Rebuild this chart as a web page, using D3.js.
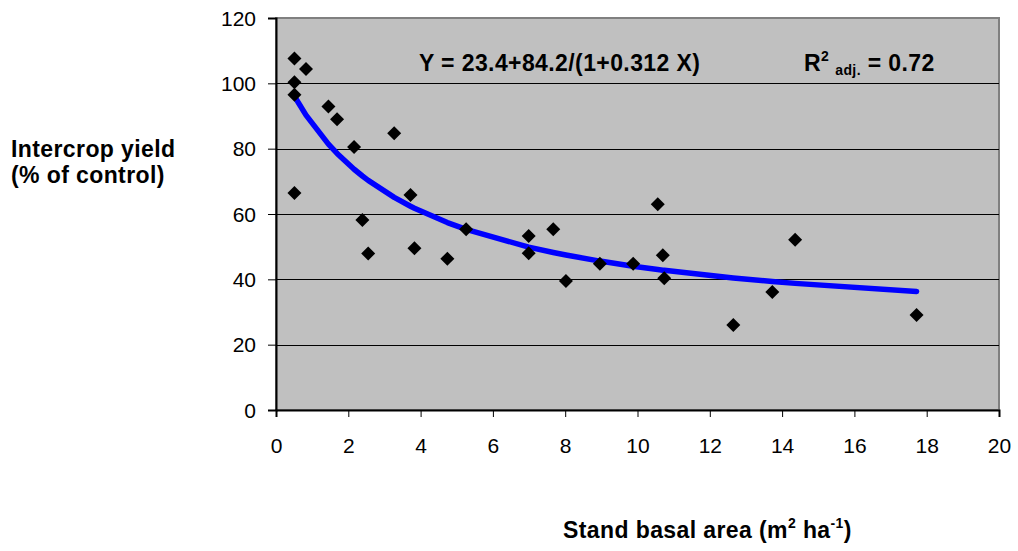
<!DOCTYPE html>
<html>
<head>
<meta charset="utf-8">
<script src="https://cdn.jsdelivr.net/npm/d3@7"></script>
<style>
  html, body { margin: 0; padding: 0; background: #ffffff; }
  svg { display: block; font-family: Arial, "Liberation Sans", sans-serif; }
</style>
</head>
<body>
<svg id="chart" width="1018" height="551"></svg>
<script>
// Stand basal area (m² ha⁻¹) and intercrop yield (% of control) per plot
const basalArea = [0.51, 0.83, 0.51, 0.51, 1.45, 1.69, 2.16, 3.27, 0.51, 3.72,
                   2.39, 2.55, 3.83, 4.74, 5.26, 6.99, 6.99, 7.67, 8.02, 8.96,
                   9.88, 10.56, 10.70, 10.74, 12.65, 13.73, 14.36, 17.72];
const yieldPct  = [107.6, 104.4, 100.3, 96.5, 92.9, 89.0, 80.5, 84.7, 66.4, 65.8,
                   58.2, 47.9, 49.5, 46.3, 55.3, 53.3, 48.0, 55.3, 39.5, 44.8,
                   44.8, 63.0, 47.4, 40.3, 26.0, 36.1, 52.1, 29.1];

// Fitted hyperbolic model: Y = a + b / (1 + c X)
const fitA = 23.4, fitB = 84.2, fitC = 0.312;
const r2Adj = 0.72;

const xTicks = [0, 2, 4, 6, 8, 10, 12, 14, 16, 18, 20];
const yTicks = [0, 20, 40, 60, 80, 100, 120];

const svg = d3.select("#chart");
const plotL = 276, plotR = 999, plotT = 18, plotB = 410;
const labelFont = 23, tickFont = 21, smallFont = 14, spacing = "0.4px";

const x = d3.scaleLinear().domain([0, 20]).range([plotL, plotR]);
const y = d3.scaleLinear().domain([0, 120]).range([plotB, plotT]);

// plot area
svg.append("rect")
  .attr("x", plotL).attr("y", plotT)
  .attr("width", plotR - plotL).attr("height", plotB - plotT)
  .attr("fill", "#c0c0c0")
  .attr("stroke", "#808080").attr("stroke-width", 2);

// horizontal gridlines
svg.append("g")
  .selectAll("line")
  .data(yTicks.filter(t => t > 0 && t < 120))
  .join("line")
  .attr("x1", plotL).attr("x2", plotR)
  .attr("y1", d => Math.round(y(d)) + 0.5).attr("y2", d => Math.round(y(d)) + 0.5)
  .attr("stroke", "#000").attr("stroke-width", 1);

// axes
const yAxis = svg.append("g")
  .attr("transform", `translate(${plotL},0)`)
  .call(d3.axisLeft(y).tickValues(yTicks).tickSize(8).tickPadding(12).tickFormat(d3.format("d")));
const xAxis = svg.append("g")
  .attr("transform", `translate(0,${plotB})`)
  .call(d3.axisBottom(x).tickValues(xTicks).tickSize(7).tickPadding(21).tickFormat(d3.format("d")));

[yAxis, xAxis].forEach(g => {
  g.select(".domain").attr("stroke", "#000").attr("stroke-width", 2);
  g.selectAll(".tick line").attr("stroke", "#000").attr("stroke-width", 1);
  g.selectAll(".tick text")
    .attr("fill", "#000")
    .style("font-family", "Arial, 'Liberation Sans', sans-serif")
    .style("font-size", tickFont + "px");
});
yAxis.selectAll(".tick text").attr("dy", "0.34em");

// fitted curve through the observed basal areas
const curveX = Array.from(new Set(basalArea)).sort((a, b) => a - b);
const curveData = curveX.map(v => [v, fitA + fitB / (1 + fitC * v)]);
svg.append("path")
  .datum(curveData)
  .attr("fill", "none")
  .attr("stroke", "#0000ff")
  .attr("stroke-width", 5.5)
  .attr("stroke-linejoin", "round")
  .attr("stroke-linecap", "round")
  .attr("d", d3.line().x(d => x(d[0])).y(d => y(d[1])));

// observations as diamonds
const diamond = d3.symbol().type(d3.symbolDiamond2).size(125);
svg.append("g")
  .selectAll("path")
  .data(basalArea.map((v, i) => [v, yieldPct[i]]))
  .join("path")
  .attr("d", diamond)
  .attr("transform", d => `translate(${x(d[0])},${y(d[1])})`)
  .attr("fill", "#000");

// equation and fit statistic
svg.append("text")
  .attr("x", 419).attr("y", 71)
  .attr("font-size", labelFont).attr("font-weight", "bold")
  .style("letter-spacing", spacing)
  .text(`Y = ${fitA}+${fitB}/(1+${fitC} X)`);

const r2 = svg.append("text")
  .attr("x", 804).attr("y", 71)
  .attr("font-size", labelFont).attr("font-weight", "bold")
  .style("letter-spacing", spacing);
r2.append("tspan").text("R");
r2.append("tspan").attr("font-size", smallFont).attr("dy", -10).text("2");
r2.append("tspan").attr("font-size", smallFont).attr("dx", 6).attr("dy", 14).text("adj.");
r2.append("tspan").attr("dy", -4).text(` = ${r2Adj}`);

// y axis title
const yt = svg.append("text")
  .attr("font-size", labelFont).attr("font-weight", "bold")
  .style("letter-spacing", spacing);
yt.append("tspan").attr("x", 11).attr("y", 157).text("Intercrop yield");
yt.append("tspan").attr("x", 11).attr("y", 183).text("(% of control)");

// x axis title
const xt = svg.append("text")
  .attr("x", 563).attr("y", 538)
  .attr("font-size", labelFont).attr("font-weight", "bold")
  .style("letter-spacing", spacing);
xt.append("tspan").text("Stand basal area (m");
xt.append("tspan").attr("font-size", smallFont).attr("dy", -10).text("2");
xt.append("tspan").attr("dy", 10).text(" ha");
xt.append("tspan").attr("font-size", smallFont).attr("dy", -10).text("-1");
xt.append("tspan").attr("dy", 10).text(")");
</script>
</body>
</html>
